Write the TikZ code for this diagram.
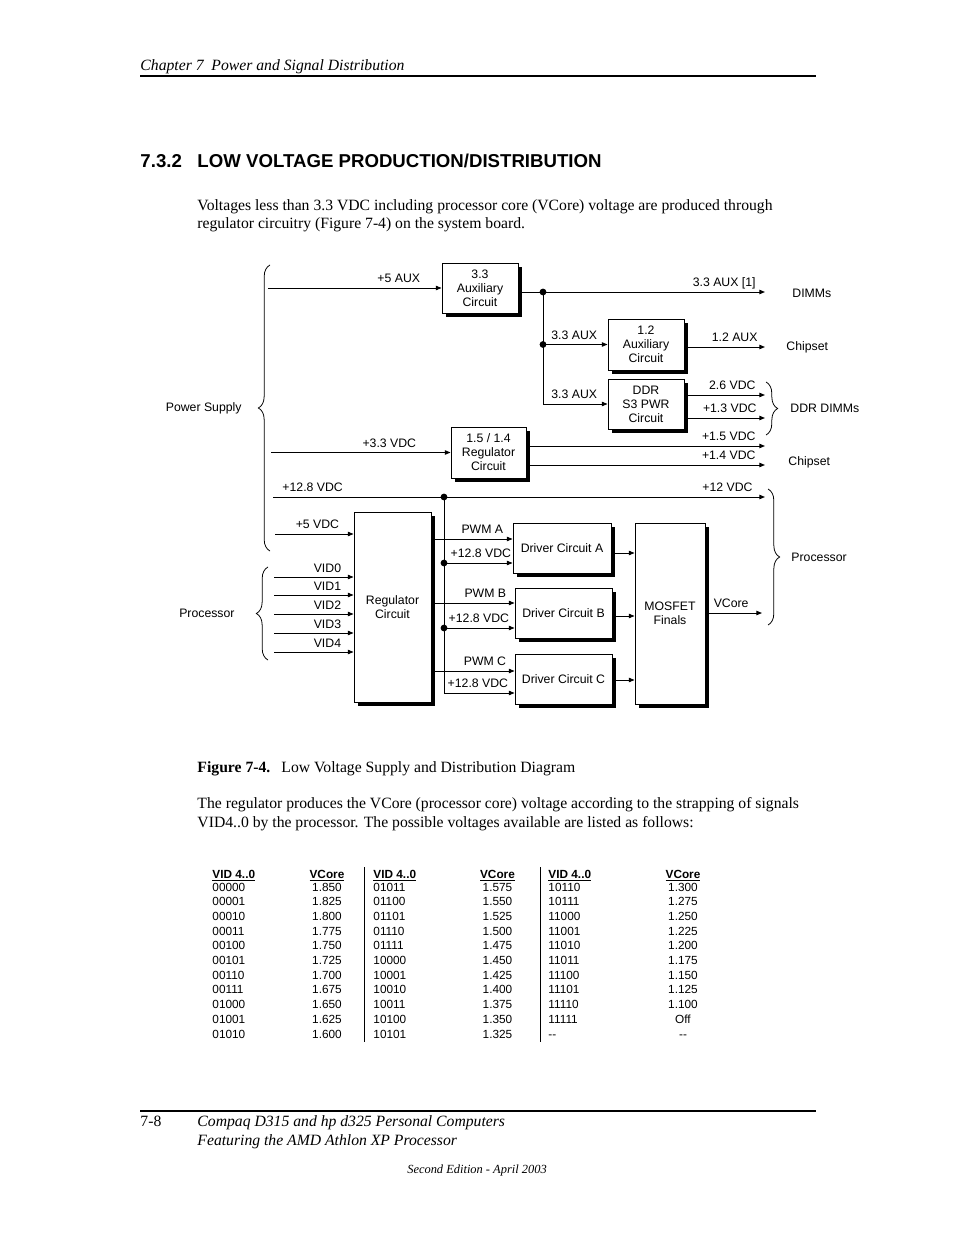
\documentclass[tikz,border=0pt]{standalone}
\usepackage{fontspec}
\setmainfont{Liberation Serif}
\setsansfont{Liberation Sans}
\usetikzlibrary{arrows.meta,shadows,decorations.pathreplacing}

\newlength\pxu
\setlength\pxu{0.6439pt}
\newcommand\dgfont{\sffamily\fontsize{7.9}{9}\selectfont}
\newcommand\tabfont{\sffamily\fontsize{7.6}{9}\selectfont}

\begin{document}
\begin{tikzpicture}[x=\pxu,y=-\pxu,>={Triangle[length=3.6pt,width=2.8pt]},line width=0.6pt,
    block/.style={draw,fill=white,align=center,inner sep=0pt,font=\dgfont,
        drop shadow={shadow xshift=2.6pt,shadow yshift=-2.6pt,fill=black,opacity=1}},
    boxsize/.style 2 args={minimum width=#1*\pxu,minimum height=#2*\pxu},
    lbl/.style={font=\dgfont,inner sep=0pt,anchor=base east,yshift=3.5pt},
    side/.style={font=\dgfont,inner sep=0pt},
    curly/.style={decorate,decoration={brace,amplitude=7.5pt},line width=0.5pt},
    txt/.style={inner sep=0pt,anchor=base west,font=\fontsize{10.1}{12}\selectfont},
    tab/.style={inner sep=0pt,font=\tabfont}]
    \fill[white] (0,0) rectangle (954,1235);
    \useasboundingbox (0,0) rectangle (954,1235);

    % page header
    \node[txt,font=\itshape\fontsize{10.1}{12}\selectfont] (chap) at (140,70.5) {Chapter 7\ \ Power and Signal Distribution};
    \draw[line width=1.3pt] (140,76) -- (816,76);
    \node[txt,font=\sffamily\bfseries\fontsize{12}{14}\selectfont] (secnum) at (140,168) {7.3.2};
    \node[txt,font=\sffamily\bfseries\fontsize{12}{14}\selectfont] (sectitle) at (197,168) {LOW VOLTAGE PRODUCTION/DISTRIBUTION};
    \node[txt] (para1a) at (197,210.5) {Voltages less than 3.3 VDC including processor core (VCore) voltage are produced through};
    \node[txt] (para1b) at (197,228.5) {regulator circuitry (Figure 7-4) on the system board.};

    % blocks
    \node[block,boxsize={76}{50}] (aux33) at (480,288) {3.3\\Auxiliary\\Circuit};
    \node[block,boxsize={76}{51}] (aux12) at (646,344.5) {1.2\\Auxiliary\\Circuit};
    \node[block,boxsize={76}{50}] (ddr) at (646,404) {DDR\\S3 PWR\\Circuit};
    \node[block,boxsize={75}{51}] (reg15) at (488.5,452.5) {1.5 / 1.4\\Regulator\\Circuit};
    \node[block,boxsize={77}{190}] (regc) at (392.5,607) {Regulator\\Circuit};
    \node[block,boxsize={98}{50}] (drva) at (562,548) {Driver Circuit A};
    \node[block,boxsize={97}{50}] (drvb) at (563.5,613) {Driver Circuit B};
    \node[block,boxsize={97}{50}] (drvc) at (563.5,679) {Driver Circuit C};
    \node[block,boxsize={70}{181}] (mosfet) at (670,613.5) {MOSFET\\Finals};

    % line ends and junctions
    \coordinate (in5aux) at (268,288);
    \coordinate (in33) at (271,452.5);
    \coordinate (in128) at (273,497);
    \coordinate (in5v) at (275,534);
    \coordinate (j1) at (543,292);
    \coordinate (j2) at (543,344.5);
    \coordinate (j3) at (444,497);
    \coordinate (j4) at (444,563);
    \coordinate (j5) at (444,628);
    \coordinate (j6) at (444,693);
    \coordinate (dimm) at (765,292);
    \coordinate (chip12) at (765,347);
    \coordinate (ddr26) at (765,395);
    \coordinate (ddr13) at (765,418);
    \coordinate (chip15) at (765,446);
    \coordinate (chip14) at (765,465);
    \coordinate (proc12) at (765,497);
    \coordinate (vcore) at (762,613);
    \coordinate (pwma) at (0,539);
    \coordinate (pwmb) at (0,603);
    \coordinate (pwmc) at (0,671);
    \coordinate (outa) at (0,553);
    \coordinate (outb) at (0,616);
    \coordinate (outc) at (0,680);

    % supply side
    \draw[->] (in5aux) -- node[lbl,at end,xshift=-21*\pxu] {+5 AUX} (aux33.west);
    \draw[->] (aux33.east |- j1) -- node[lbl,at end,xshift=-9*\pxu] {3.3 AUX [1]} (dimm);
    \draw[->] (j2) -- node[lbl,at end,xshift=-10*\pxu] {3.3 AUX} (aux12.west);
    \draw[->] (j1) |- node[lbl,at end,xshift=-10*\pxu] {3.3 AUX} (ddr.west);
    \draw[->] (aux12.east |- chip12) -- node[lbl,at end,xshift=-7*\pxu] {1.2 AUX} (chip12);
    \draw[->] (ddr.east |- ddr26) -- node[lbl,at end,xshift=-9*\pxu] {2.6 VDC} (ddr26);
    \draw[->] (ddr.east |- ddr13) -- node[lbl,at end,xshift=-8*\pxu] {+1.3 VDC} (ddr13);
    \draw[->] (in33) -- node[lbl,at end,xshift=-34*\pxu] {+3.3 VDC} (reg15.west);
    \draw[->] (reg15.east |- chip15) -- node[lbl,at end,xshift=-9*\pxu] {+1.5 VDC} (chip15);
    \draw[->] (reg15.east |- chip14) -- node[lbl,at end,xshift=-9*\pxu] {+1.4 VDC} (chip14);
    \draw[->] (in128) -- node[lbl,at start,anchor=base west,xshift=9*\pxu] {+12.8 VDC}
        node[lbl,at end,xshift=-12*\pxu] {+12 VDC} (proc12);
    \draw[->] (in5v) -- node[lbl,at end,xshift=-14*\pxu] {+5 VDC} (regc.west |- in5v);
    \foreach \y [count=\i from 0] in {577,595,614,633,652} {
        \coordinate (vid\i) at (274,\y);
        \draw[->] (vid\i) -- node[lbl,at end,xshift=-12*\pxu,yshift=-0.6pt] {VID\i} (regc.west |- vid\i);
    }

    % regulator to drivers
    \draw (j3) -- (j6);
    \draw[->] (regc.east |- pwma) -- node[lbl,at end,xshift=-9*\pxu] {PWM A} (drva.west |- pwma);
    \draw[->] (j4) -- node[lbl,at end,xshift=-1*\pxu] {+12.8 VDC} (drva.west |- j4);
    \draw[->] (regc.east |- pwmb) -- node[lbl,at end,xshift=-8*\pxu] {PWM B} (drvb.west |- pwmb);
    \draw[->] (j5) -- node[lbl,at end,xshift=-5*\pxu] {+12.8 VDC} (drvb.west |- j5);
    \draw[->] (regc.east |- pwmc) -- node[lbl,at end,xshift=-8*\pxu] {PWM C} (drvc.west |- pwmc);
    \draw[->] (j6) -- node[lbl,at end,xshift=-6*\pxu] {+12.8 VDC} (drvc.west |- j6);
    \draw[->] (drva.east |- outa) -- (mosfet.west |- outa);
    \draw[->] (drvb.east |- outb) -- (mosfet.west |- outb);
    \draw[->] (drvc.east |- outc) -- (mosfet.west |- outc);
    \draw[->] (mosfet.east |- vcore) -- node[lbl,at end,xshift=-13*\pxu] {VCore} (vcore);
    \foreach \j in {j1,j2,j3,j4,j5}
        \fill (\j) circle (3.4);

    % braces and destinations
    \draw[curly] (270,551) -- (270,265);
    \draw[curly] (268,660) -- (268,567);
    \draw[curly] (766,382) -- (766,435);
    \draw[curly] (768,489) -- (768,625);
    \node[side,anchor=east] (pwrsup) at (242,408) {Power Supply};
    \node[side,anchor=east] (procin) at (235,613.5) {Processor};
    \node[side,anchor=west] (dimms) at (792,293) {DIMMs};
    \node[side,anchor=west] (chipa) at (786,347) {Chipset};
    \node[side,anchor=west] (ddrdimms) at (790,408.5) {DDR DIMMs};
    \node[side,anchor=west] (chipb) at (788,462) {Chipset};
    \node[side,anchor=west] (procout) at (791,557) {Processor};

    % caption and text
    \node[txt,font=\bfseries\fontsize{10.1}{12}\selectfont] (capnum) at (197,772.5) {Figure 7-4.};
    \node[txt] (captext) at (281,772.5) {Low Voltage Supply and Distribution Diagram};
    \node[txt] (para2a) at (197,808.5) {The regulator produces the VCore (processor core) voltage according to the strapping of signals};
    \node[txt] (para2b) at (197,827.5) {VID4..0 by the processor. The possible voltages available are listed as follows:};

    % VID table
    \foreach \x/\c in {212/327,373/497.5,548/683} {
        \node[tab,anchor=base west,font=\tabfont\bfseries] at (\x,878) {\underline{VID 4..0}};
        \node[tab,anchor=base,font=\tabfont\bfseries] at (\c,878) {\underline{VCore}};
    }
    \foreach \v/\c [count=\i from 0] in {00000/1.850,00001/1.825,00010/1.800,00011/1.775,00100/1.750,
        00101/1.725,00110/1.700,00111/1.675,01000/1.650,01001/1.625,01010/1.600} {
        \node[tab,anchor=base west] (vida\i) at (212,{891+14.7*\i}) {\v};
        \node[tab,anchor=base] (vca\i) at (327,{891+14.7*\i}) {\c};
    }
    \foreach \v/\c [count=\i from 0] in {01011/1.575,01100/1.550,01101/1.525,01110/1.500,01111/1.475,
        10000/1.450,10001/1.425,10010/1.400,10011/1.375,10100/1.350,10101/1.325} {
        \node[tab,anchor=base west] (vidb\i) at (373,{891+14.7*\i}) {\v};
        \node[tab,anchor=base] (vcb\i) at (497.5,{891+14.7*\i}) {\c};
    }
    \foreach \v/\c [count=\i from 0] in {10110/1.300,10111/1.275,11000/1.250,11001/1.225,11010/1.200,
        11011/1.175,11100/1.150,11101/1.125,11110/1.100,11111/Off} {
        \node[tab,anchor=base west] (vidc\i) at (548,{891+14.7*\i}) {\v};
        \node[tab,anchor=base] (vcc\i) at (683,{891+14.7*\i}) {\c};
    }
    \node[tab,anchor=base west] (vidc10) at (548,1038) {-{}-};
    \node[tab,anchor=base] (vcc10) at (683,1038) {-{}-};
    \draw (364,867) -- (364,1042);
    \draw (540,867) -- (540,1042);

    % page footer
    \draw[line width=1pt] (140,1111) -- (816,1111);
    \node[txt] (pageno) at (140,1126) {7-8};
    \node[txt,font=\itshape\fontsize{10.1}{12}\selectfont] (foota) at (197,1126) {Compaq D315 and hp d325 Personal Computers};
    \node[txt,font=\itshape\fontsize{10.1}{12}\selectfont] (footb) at (197,1145) {Featuring the AMD Athlon XP Processor};
    \node[txt,anchor=base,font=\itshape\fontsize{8}{10}\selectfont] (edition) at (477,1173) {Second Edition - April 2003};
\end{tikzpicture}
\end{document}
